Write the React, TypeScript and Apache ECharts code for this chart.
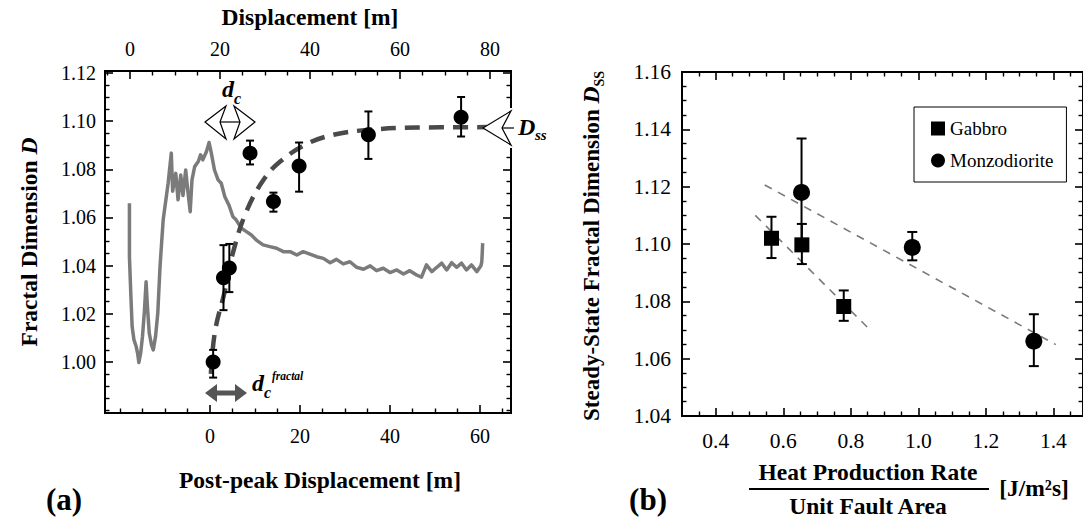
import React, { useEffect, useRef } from "react";
import * as echarts from "echarts";

const FONT = "'Liberation Serif', 'Times New Roman', serif";

// ---------------- Panel (a) ----------------
const postPeakTicks = [0, 20, 40, 60];
const displacementTicks = [0, 20, 40, 60, 80];
const fractalTicks = [1.0, 1.02, 1.04, 1.06, 1.08, 1.1, 1.12];

// measured fractal dimension trace (gray), x = post-peak displacement [m]
const grayX = [
  -17.9, -17.9, -17.6, -17.3, -16.9, -16.4, -16.1, -15.8, -15.4, -15.0,
  -14.6, -14.2, -13.9, -13.5, -13.0, -12.6, -12.1, -11.6, -11.1, -10.4,
  -9.3, -8.6, -8.3, -7.6, -7.1, -6.5, -6.0, -5.4, -4.9, -4.4,
  -4.0, -3.4, -2.6, -2.1, -1.6, -0.8, -0.2, 0.3, 1.0, 1.8,
  2.5, 3.3, 4.2, 5.1, 5.8, 7.0, 8.1, 9.2, 10.3, 11.8,
  13.3, 14.8, 16.3, 17.8, 19.3, 20.7, 22.2, 23.7, 25.2, 26.7,
  28.1, 29.6, 31.1, 32.6, 34.1, 35.6, 37.0, 38.5, 40.0, 41.5,
  43.0, 44.4, 45.9, 47.0, 48.1, 49.3, 50.4, 51.5, 52.6, 53.7,
  54.8, 55.9, 57.0, 58.1, 59.3, 60.2, 60.4, 60.6,
];
const grayY = [
  1.0659, 1.0437, 1.0285, 1.0147, 1.0092, 1.0064, 1.0037, 0.9998, 1.0037, 1.0106,
  1.0203, 1.0333, 1.023, 1.012, 1.0071, 1.005, 1.0106, 1.0203, 1.0397, 1.059,
  1.0742, 1.0867, 1.0709, 1.0783, 1.0673, 1.0776, 1.0691, 1.0797, 1.0705, 1.0624,
  1.0756, 1.0811, 1.0832, 1.086, 1.0839, 1.0873, 1.0911, 1.0867, 1.0797, 1.0756,
  1.0742, 1.0686, 1.0652, 1.0603, 1.059, 1.0555, 1.0541, 1.0527, 1.0506, 1.0486,
  1.0479, 1.0472, 1.0458, 1.0458, 1.0444, 1.0458, 1.0448, 1.0437, 1.043, 1.0412,
  1.0426, 1.0407, 1.0416, 1.0393, 1.0385, 1.0399, 1.0379, 1.0389, 1.0371, 1.0382,
  1.0365, 1.0379, 1.0361, 1.0352, 1.0403, 1.0375, 1.0393, 1.041, 1.0382, 1.0412,
  1.0393, 1.041, 1.0382, 1.0403, 1.0375, 1.0399, 1.0416, 1.0493,
];

// dashed fit curve
const fitX = [0.2, 1.1, 3.3, 5.2, 8.1, 11.9, 15.6, 21.5, 27.4, 34.8, 45.9, 61.5];
const fitY = [0.995, 1.0125, 1.0295, 1.046, 1.0625, 1.0756, 1.0832, 1.0905, 1.0943, 1.0963, 1.0973, 1.0975];

// black points with error bars
const ptX = [0.7, 3.0, 4.3, 8.9, 14.1, 19.8, 35.2, 55.8];
const ptD = [1.0, 1.035, 1.039, 1.0867, 1.0666, 1.0814, 1.0943, 1.1016];
const ptLo = [0.9935, 1.0215, 1.029, 1.082, 1.0624, 1.0707, 1.0843, 1.0936];
const ptHi = [1.005, 1.0485, 1.049, 1.0919, 1.0703, 1.0911, 1.104, 1.11];

// ---------------- Panel (b) ----------------
const heatTicks = [0.4, 0.6, 0.8, 1.0, 1.2, 1.4];
const dssTicks = [1.04, 1.06, 1.08, 1.1, 1.12, 1.14, 1.16];

const gabbroX = [0.565, 0.655, 0.779];
const gabbroY = [1.102, 1.0997, 1.0782];
const gabbroLo = [1.0951, 1.093, 1.0732];
const gabbroHi = [1.1095, 1.107, 1.0838];

const monzoX = [0.654, 0.982, 1.342];
const monzoY = [1.118, 1.0988, 1.0661];
const monzoLo = [1.099, 1.0943, 1.0574];
const monzoHi = [1.1368, 1.1042, 1.0755];

const gabbroFitX = [0.517, 0.853];
const gabbroFitY = [1.11, 1.0705];
const monzoFitX = [0.545, 1.407];
const monzoFitY = [1.1206, 1.0649];

function seq(a: number, b: number, step: number): number[] {
  const out: number[] = [];
  const n = Math.round((b - a) / step);
  for (let i = 0; i <= n; i++) out.push(+(a + i * step).toFixed(6));
  return out;
}
function without(vals: number[], majors: number[]) {
  return vals.filter((v) => !majors.some((m) => Math.abs(m - v) < 1e-6));
}

function axisPair(
  gridIndex: number,
  position: string,
  min: number,
  max: number,
  majors: number[],
  minors: number[],
  label?: { fmt: (v: number) => string; margin: number; size: number }
) {
  const base = {
    type: "value",
    gridIndex,
    position,
    min,
    max,
    axisLine: { show: false, onZero: false },
    splitLine: { show: false },
  };
  const major = {
    ...base,
    axisTick: {
      show: true,
      inside: true,
      length: 8,
      customValues: majors,
      lineStyle: { color: "#000", width: 1.6 },
    },
    axisLabel: label
      ? {
          show: true,
          customValues: majors,
          formatter: label.fmt,
          margin: label.margin,
          color: "#000",
          fontFamily: FONT,
          fontSize: label.size,
        }
      : { show: false },
  };
  const minor = {
    ...base,
    axisTick: {
      show: true,
      inside: true,
      length: 4.5,
      customValues: without(minors, majors),
      lineStyle: { color: "#000", width: 1.4 },
    },
    axisLabel: { show: false },
  };
  return [major, minor];
}

function errRender(cap: number) {
  return (params: any, api: any) => {
    const x = api.value(0);
    const lo = api.coord([x, api.value(1)]);
    const hi = api.coord([x, api.value(2)]);
    const st = { stroke: "#000", lineWidth: 2 };
    return {
      type: "group",
      children: [
        { type: "line", shape: { x1: lo[0], y1: lo[1], x2: hi[0], y2: hi[1] }, style: st },
        { type: "line", shape: { x1: lo[0] - cap / 2, y1: lo[1], x2: lo[0] + cap / 2, y2: lo[1] }, style: st },
        { type: "line", shape: { x1: hi[0] - cap / 2, y1: hi[1], x2: hi[0] + cap / 2, y2: hi[1] }, style: st },
      ],
    };
  };
}

function T(x: number, y: number, text: string, o: any = {}, extra: any = {}) {
  return {
    type: "text",
    x,
    y,
    z: 100,
    ...extra,
    style: {
      text,
      fill: "#000",
      fontFamily: FONT,
      fontSize: 23.5,
      fontWeight: "bold",
      align: "center",
      verticalAlign: "middle",
      ...o,
    },
  };
}

export default function App() {
  const ref = useRef<HTMLDivElement>(null);
  useEffect(() => {
    if (!ref.current) return;
    const chart = echarts.init(ref.current, undefined, { renderer: "svg" });

    const ppMin = -23.33, ppMax = 66.89;
    const dOff = 17.78; // displacement = post-peak + offset
    const f2 = (v: number) => v.toFixed(2);
    const f1 = (v: number) => v.toFixed(1);
    const f0 = (v: number) => String(Math.round(v));

    const xAxes = [
      ...axisPair(0, "bottom", ppMin, ppMax, postPeakTicks, seq(-20, 65, 5), { fmt: f0, margin: 13, size: 20 }),
      ...axisPair(0, "top", ppMin + dOff, ppMax + dOff, displacementTicks, seq(-5, 80, 5), { fmt: f0, margin: 12, size: 20 }),
      ...axisPair(1, "bottom", 0.3, 1.4876, heatTicks, seq(0.35, 1.45, 0.05), { fmt: f1, margin: 14, size: 21.5 }),
      ...axisPair(1, "top", 0.3, 1.4876, heatTicks, seq(0.35, 1.45, 0.05)),
    ];
    const yAxes = [
      ...axisPair(0, "left", 0.9788, 1.1208, fractalTicks, seq(0.98, 1.12, 0.005), { fmt: f2, margin: 9, size: 20 }),
      ...axisPair(0, "right", 0.9788, 1.1208, fractalTicks, seq(0.98, 1.12, 0.005)),
      ...axisPair(1, "left", 1.04, 1.16, dssTicks, seq(1.04, 1.16, 0.005), { fmt: f2, margin: 11, size: 21.5 }),
      ...axisPair(1, "right", 1.04, 1.16, dssTicks, seq(1.04, 1.16, 0.005)),
    ];

    const graphic: any[] = [
      // Panel (a) titles
      T(310, 17, "Displacement [m]"),
      T(320, 480, "Post-peak Displacement [m]"),
      T(64, 499, "(a)", { fontSize: 31 }),
      T(29, 242, "{a|Fractal Dimension }{b|D}", {
        rich: {
          a: { fontFamily: FONT, fontSize: 23.5, fontWeight: "bold" },
          b: { fontFamily: FONT, fontSize: 23.5, fontWeight: "bold", fontStyle: "italic" },
        },
      }, { rotation: Math.PI / 2 }),
      // d_c symbol
      { type: "polygon", z: 100, shape: { points: [[205, 122], [226, 106], [220, 122], [226, 139]] }, style: { fill: "#fff", stroke: "#000", lineWidth: 1.2 } },
      { type: "polygon", z: 100, shape: { points: [[255, 122], [234, 106], [240, 122], [234, 139]] }, style: { fill: "#fff", stroke: "#000", lineWidth: 1.2 } },
      { type: "line", z: 100, shape: { x1: 220, y1: 122, x2: 240, y2: 122 }, style: { stroke: "#000", lineWidth: 1.2 } },
      T(228, 89, "d", { fontSize: 24, fontStyle: "italic", align: "center" }),
      T(234, 98, "c", { fontSize: 16, fontStyle: "italic", align: "left" }),
      // d_c^fractal arrow
      {
        type: "polygon",
        z: 100,
        shape: {
          points: [[205, 393], [217, 384], [217, 390.5], [235, 390.5], [235, 384], [247, 393], [235, 402], [235, 395.5], [217, 395.5], [217, 402]],
        },
        style: { fill: "#555" },
      },
      T(252, 383, "d", { fontSize: 24, fontStyle: "italic", align: "left" }),
      T(264, 392, "c", { fontSize: 16, fontStyle: "italic", align: "left" }),
      T(272, 376, "fractal", { fontSize: 11.5, fontStyle: "italic", align: "left" }),
      // D_ss arrow on right frame
      { type: "rect", z: 99, shape: { x: 506, y: 108, width: 10, height: 40 }, style: { fill: "#fff" } },
      { type: "polygon", z: 100, shape: { points: [[483, 128], [511, 111], [502, 128], [511, 145]] }, style: { fill: "#fff", stroke: "#000", lineWidth: 1.2 } },
      { type: "line", z: 100, shape: { x1: 502, y1: 128, x2: 514, y2: 128 }, style: { stroke: "#000", lineWidth: 1.2 } },
      T(518, 127, "D", { fontSize: 24, fontStyle: "italic", align: "left" }),
      T(535, 135, "ss", { fontSize: 15, fontStyle: "italic", align: "left" }),

      // Panel (b) titles
      T(591, 246, "{a|Steady-State Fractal Dimension }{b|D}{c|SS}", {
        rich: {
          a: { fontFamily: FONT, fontSize: 23, fontWeight: "bold", lineHeight: 30 },
          b: { fontFamily: FONT, fontSize: 23.5, fontWeight: "bold", fontStyle: "italic", lineHeight: 30 },
          c: { fontFamily: FONT, fontSize: 14, fontWeight: "bold", lineHeight: 13, verticalAlign: "bottom" },
        },
      }, { rotation: Math.PI / 2 }),
      T(868, 472, "Heat Production Rate"),
      { type: "line", z: 100, shape: { x1: 749, y1: 489, x2: 989, y2: 489 }, style: { stroke: "#000", lineWidth: 2 } },
      T(868, 506, "Unit Fault Area"),
      T(1034, 488, "[J/m²s]"),
      T(648, 499, "(b)", { fontSize: 31 }),
    ];

    const option: any = {
      animation: false,
      textStyle: { fontFamily: FONT },
      grid: [
        { left: 105, top: 71, width: 406, height: 342, show: true, borderColor: "#000", borderWidth: 2, backgroundColor: "transparent" },
        { left: 682, top: 72, width: 402, height: 344, show: true, borderColor: "#000", borderWidth: 2, backgroundColor: "transparent" },
      ],
      xAxis: xAxes,
      yAxis: yAxes,
      legend: {
        show: true,
        orient: "vertical",
        left: 914,
        top: 107,
        padding: [12, 13, 12, 17],
        itemGap: 13,
        itemWidth: 14,
        itemHeight: 14,
        itemTextGap: 11,
        borderColor: "#000",
        borderWidth: 1,
        backgroundColor: "#fff",
        selectedMode: false,
        textStyle: { fontFamily: FONT, fontSize: 19, color: "#000" },
        data: [
          { name: "Gabbro", icon: "rect" },
          { name: "Monzodiorite", icon: "circle" },
        ],
      },
      graphic,
      series: [
        // panel (a)
        {
          name: "Fractal dimension trace",
          type: "line",
          xAxisIndex: 0,
          yAxisIndex: 0,
          data: grayX.map((x, i) => [x, grayY[i]]),
          showSymbol: false,
          symbol: "none",
          lineStyle: { color: "#7b7b7b", width: 3.5, join: "round" },
          z: 2,
        },
        {
          name: "Fit",
          type: "line",
          xAxisIndex: 0,
          yAxisIndex: 0,
          data: fitX.map((x, i) => [x, fitY[i]]),
          smooth: 0.4,
          showSymbol: false,
          symbol: "none",
          lineStyle: { color: "#4a4a4a", width: 4.5, type: [15, 9], cap: "butt" },
          z: 3,
        },
        {
          name: "Error (a)",
          type: "custom",
          xAxisIndex: 0,
          yAxisIndex: 0,
          renderItem: errRender(8),
          encode: { x: 0, y: [1, 2] },
          data: ptX.map((x, i) => [x, ptLo[i], ptHi[i]]),
          z: 4,
        },
        {
          name: "D",
          type: "scatter",
          xAxisIndex: 0,
          yAxisIndex: 0,
          symbol: "circle",
          symbolSize: 15,
          itemStyle: { color: "#000", opacity: 1 },
          data: ptX.map((x, i) => [x, ptD[i]]),
          z: 5,
        },
        // panel (b)
        {
          name: "Gabbro fit",
          type: "line",
          xAxisIndex: 4,
          yAxisIndex: 4,
          data: gabbroFitX.map((x, i) => [x, gabbroFitY[i]]),
          showSymbol: false,
          symbol: "none",
          lineStyle: { color: "#7a7a7a", width: 1.6, type: [8, 7] },
          z: 2,
        },
        {
          name: "Monzodiorite fit",
          type: "line",
          xAxisIndex: 4,
          yAxisIndex: 4,
          data: monzoFitX.map((x, i) => [x, monzoFitY[i]]),
          showSymbol: false,
          symbol: "none",
          lineStyle: { color: "#7a7a7a", width: 1.6, type: [8, 7] },
          z: 2,
        },
        {
          name: "Gabbro error",
          type: "custom",
          xAxisIndex: 4,
          yAxisIndex: 4,
          renderItem: errRender(10),
          encode: { x: 0, y: [1, 2] },
          data: gabbroX.map((x, i) => [x, gabbroLo[i], gabbroHi[i]]),
          z: 3,
        },
        {
          name: "Monzodiorite error",
          type: "custom",
          xAxisIndex: 4,
          yAxisIndex: 4,
          renderItem: errRender(10),
          encode: { x: 0, y: [1, 2] },
          data: monzoX.map((x, i) => [x, monzoLo[i], monzoHi[i]]),
          z: 3,
        },
        {
          name: "Gabbro",
          type: "scatter",
          xAxisIndex: 4,
          yAxisIndex: 4,
          symbol: "rect",
          symbolSize: 15,
          itemStyle: { color: "#000", opacity: 1 },
          data: gabbroX.map((x, i) => [x, gabbroY[i]]),
          z: 5,
        },
        {
          name: "Monzodiorite",
          type: "scatter",
          xAxisIndex: 4,
          yAxisIndex: 4,
          symbol: "circle",
          symbolSize: 17,
          itemStyle: { color: "#000", opacity: 1 },
          data: monzoX.map((x, i) => [x, monzoY[i]]),
          z: 5,
        },
      ],
    };
    chart.setOption(option);
    return () => chart.dispose();
  }, []);

  return (
    <div
      ref={ref}
      style={{ position: "fixed", left: 0, top: 0, width: 1083, height: 520, background: "#fff" }}
    />
  );
}
